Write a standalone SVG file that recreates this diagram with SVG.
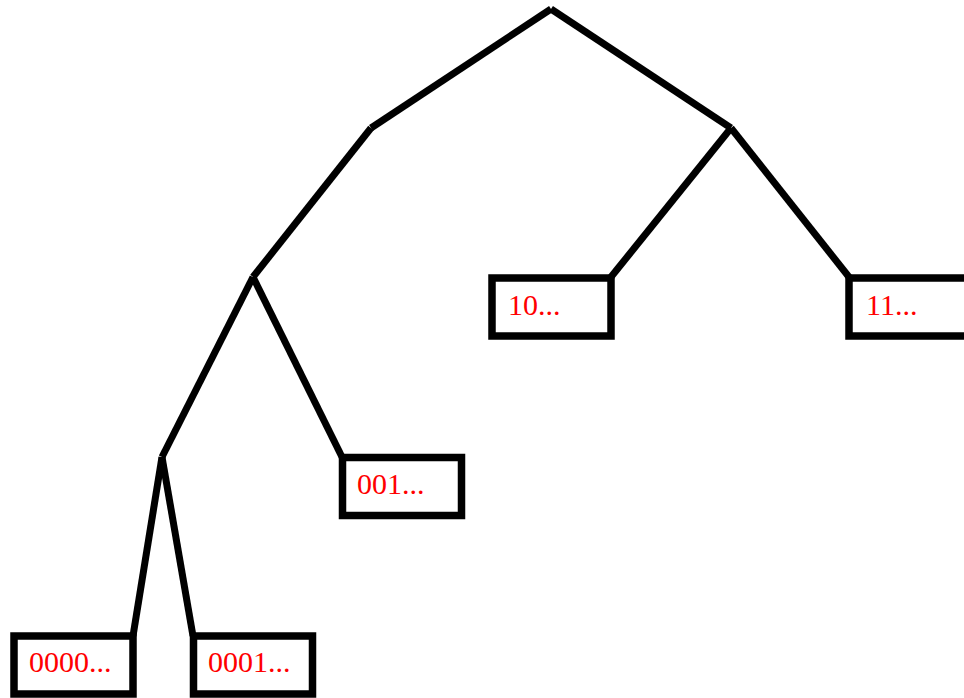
<svg xmlns="http://www.w3.org/2000/svg" width="964" height="698" viewBox="0 0 964 698">
<style>
.edge{stroke:#000;stroke-width:7;fill:none;stroke-linecap:butt}
.box{fill:#fff;stroke:#000;stroke-width:7.5}
.lbl{font-family:"Liberation Serif","Times New Roman",serif;font-size:30px;fill:#f00}
</style>
<rect width="964" height="698" fill="#fff"/>
<g id="connectors">
<line class="edge" x1="551" y1="9" x2="371" y2="128"/>
<line class="edge" x1="551" y1="9" x2="731" y2="128"/>
<line class="edge" x1="371" y1="128" x2="253" y2="277"/>
<line class="edge" x1="731" y1="128" x2="611" y2="277"/>
<line class="edge" x1="731" y1="128" x2="849" y2="277"/>
<line class="edge" x1="253" y1="277" x2="162" y2="457"/>
<line class="edge" x1="253" y1="277" x2="342" y2="457"/>
<line class="edge" x1="162" y1="457" x2="133" y2="636"/>
<line class="edge" x1="162" y1="457" x2="193" y2="636"/>
</g>
<g id="n10"><rect class="box" x="492" y="278" width="119" height="58"/><text class="lbl" x="508" y="315">10...</text></g>
<g id="n11"><rect class="box" x="849" y="278" width="119" height="58"/><text class="lbl" x="866" y="315">11...</text></g>
<g id="n001"><rect class="box" x="342.5" y="457.5" width="119" height="58"/><text class="lbl" x="357" y="494">001...</text></g>
<g id="n0000"><rect class="box" x="14" y="636" width="119" height="58"/><text class="lbl" x="29" y="672">0000...</text></g>
<g id="n0001"><rect class="box" x="193.5" y="636" width="119" height="58"/><text class="lbl" x="208" y="672">0001...</text></g>
</svg>
